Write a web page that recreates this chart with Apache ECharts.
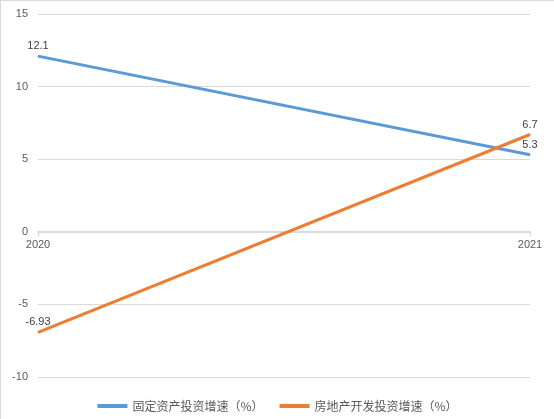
<!DOCTYPE html>
<html>
<head>
<meta charset="utf-8">
<script src="https://cdn.jsdelivr.net/npm/echarts@6/dist/echarts.min.js"></script>
<style>
html,body{margin:0;padding:0;background:#fff;}
#c{width:554px;height:419px;box-sizing:border-box;border-top:1px solid #d9d9d9;border-left:1px solid #d9d9d9;}
</style>
</head>
<body>
<div id="c"></div>
<script>
var categories = ['2020', '2021'];
var fixedInvest = [12.1, 5.3];
var realEstateInvest = [-6.93, 6.7];
var seriesNames = ['固定资产投资增速（%）', '房地产开发投资增速（%）'];
var yTicks = {min: -10, max: 15, interval: 5};

var chart = echarts.init(document.getElementById('c'));
var gridTop = 13, gridBottom = 42, H = 419;
var plotH = H - gridTop - gridBottom;
var zeroOffset = -plotH * (0 - yTicks.min) / (yTicks.max - yTicks.min);
var labelStyle = {show: true, position: 'top', color: '#404040', fontSize: 11, fontFamily: 'Liberation Sans, Arial, sans-serif', distance: 4};
chart.setOption({
  animation: false,
  grid: {left: 37, right: 24, top: gridTop, bottom: gridBottom},
  legend: {
    bottom: 2, left: 'center',
    itemWidth: 30, itemHeight: 4, itemGap: 16, icon: 'rect',
    textStyle: {color: '#595959', fontSize: 12, fontFamily: 'Noto Sans CJK SC, sans-serif'},
    data: seriesNames
  },
  xAxis: {
    type: 'category', data: categories, boundaryGap: false,
    position: 'bottom', offset: zeroOffset,
    axisLine: {onZero: false, lineStyle: {color: '#d9d9d9', width: 1}},
    axisTick: {show: true, length: 5, interval: 0, lineStyle: {color: '#d9d9d9'}},
    axisLabel: {color: '#595959', fontSize: 11, margin: 8, interval: 0, fontFamily: 'Liberation Sans, Arial, sans-serif'}
  },
  yAxis: {
    type: 'value', min: yTicks.min, max: yTicks.max, interval: yTicks.interval,
    axisLine: {show: false}, axisTick: {show: false},
    axisLabel: {color: '#595959', fontSize: 11, margin: 10, fontFamily: 'Liberation Sans, Arial, sans-serif'},
    splitLine: {lineStyle: {color: '#d9d9d9', width: 1}}
  },
  series: [
    {name: seriesNames[0], type: 'line', data: fixedInvest, symbol: 'circle', symbolSize: 1, showSymbol: true,
     lineStyle: {color: '#5b9bd5', width: 3}, itemStyle: {color: '#5b9bd5'}, label: labelStyle, z: 3},
    {name: seriesNames[1], type: 'line', data: realEstateInvest, symbol: 'circle', symbolSize: 1, showSymbol: true,
     lineStyle: {color: '#ed7d31', width: 3}, itemStyle: {color: '#ed7d31'}, label: labelStyle, z: 4}
  ]
});
</script>
</body>
</html>
